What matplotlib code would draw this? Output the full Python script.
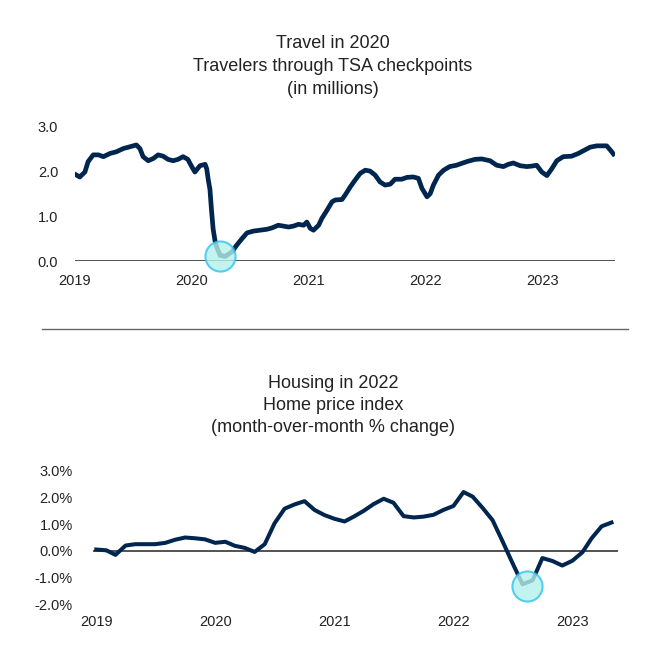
import matplotlib
matplotlib.use("Agg")
import matplotlib.pyplot as plt
import pandas as pd

# --- Données : voyageurs TSA (millions, moyenne glissante) ---
tsa_dates = [
    "2019-01-01", "2019-01-16", "2019-02-01", "2019-02-11", "2019-02-27", "2019-03-15",
    "2019-03-31", "2019-04-20", "2019-05-11", "2019-06-01", "2019-06-22", "2019-07-12",
    "2019-07-23", "2019-08-02", "2019-08-18", "2019-09-03", "2019-09-18", "2019-10-04",
    "2019-10-19", "2019-11-04", "2019-11-19", "2019-12-05", "2019-12-20", "2020-01-01",
    "2020-01-11", "2020-01-27", "2020-02-12", "2020-02-17", "2020-02-22", "2020-02-27",
    "2020-03-03", "2020-03-08", "2020-03-14", "2020-03-19", "2020-03-30", "2020-04-15",
    "2020-05-06", "2020-05-21", "2020-06-06", "2020-06-22", "2020-07-12", "2020-08-02",
    "2020-08-23", "2020-09-08", "2020-09-28", "2020-10-14", "2020-10-30", "2020-11-14",
    "2020-11-30", "2020-12-16", "2020-12-26", "2021-01-06", "2021-01-16", "2021-02-01",
    "2021-02-11", "2021-02-27", "2021-03-15", "2021-03-25", "2021-04-15", "2021-04-25",
    "2021-05-11", "2021-05-26", "2021-06-11", "2021-06-27", "2021-07-12", "2021-07-28",
    "2021-08-12", "2021-08-28", "2021-09-13", "2021-09-28", "2021-10-19", "2021-11-04",
    "2021-11-24", "2021-12-10", "2021-12-21", "2022-01-06", "2022-01-16", "2022-01-26",
    "2022-02-11", "2022-02-27", "2022-03-18", "2022-04-08", "2022-04-28", "2022-05-15",
    "2022-06-05", "2022-06-26", "2022-07-22", "2022-08-12", "2022-09-02", "2022-09-17",
    "2022-10-03", "2022-10-24", "2022-11-14", "2022-11-29", "2022-12-15", "2022-12-31",
    "2023-01-16", "2023-02-01", "2023-02-16", "2023-03-08", "2023-04-03", "2023-04-24",
    "2023-05-10", "2023-05-31", "2023-06-21", "2023-07-22", "2023-08-02", "2023-08-12",
]
tsa_millions = [
    1.93, 1.87, 1.98, 2.21, 2.36, 2.36,
    2.32, 2.39, 2.43, 2.50, 2.54, 2.58,
    2.50, 2.32, 2.23, 2.28, 2.36, 2.33,
    2.26, 2.23, 2.26, 2.32, 2.26, 2.10,
    1.98, 2.12, 2.15, 2.05, 1.80, 1.60,
    1.13, 0.72, 0.45, 0.32, 0.13, 0.11,
    0.21, 0.36, 0.50, 0.63, 0.67, 0.69,
    0.71, 0.74, 0.80, 0.78, 0.76, 0.78,
    0.82, 0.80, 0.87, 0.73, 0.69, 0.80,
    0.95, 1.13, 1.32, 1.36, 1.37, 1.47,
    1.65, 1.80, 1.95, 2.02, 2.00, 1.91,
    1.76, 1.69, 1.71, 1.82, 1.82, 1.86,
    1.87, 1.84, 1.62, 1.43, 1.50, 1.69,
    1.91, 2.02, 2.10, 2.13, 2.18, 2.22,
    2.26, 2.27, 2.23, 2.13, 2.10, 2.15,
    2.18, 2.12, 2.10, 2.11, 2.13, 1.98,
    1.90, 2.06, 2.23, 2.32, 2.33, 2.39,
    2.45, 2.53, 2.56, 2.56, 2.47, 2.38,
]
tsa_point_bas = ("2020-03-28", 0.11)

# --- Données : indice des prix immobiliers (% mensuel) ---
hpi_start, hpi_end = "2019-01-01", "2023-05-01"
hpi_pct = [
    0.05, 0.02, -0.15, 0.20, 0.25, 0.25, 0.25, 0.30, 0.42, 0.50, 0.47, 0.43,
    0.30, 0.34, 0.19, 0.11, -0.04, 0.25, 1.03, 1.58, 1.74, 1.86, 1.53, 1.34,
    1.20, 1.10, 1.28, 1.50, 1.75, 1.95, 1.80, 1.30, 1.25, 1.28, 1.35, 1.53,
    1.68, 2.20, 2.03, 1.60, 1.15, 0.35, -0.45, -1.25, -1.10, -0.27, -0.38, -0.55,
    -0.37, -0.05, 0.47, 0.92, 1.06,
]
hpi_point_bas = ("2022-08-14", -1.31)

tsa_yticks = [0, 1, 2, 3]
tsa_ylabels = ["0.0", "1.0", "2.0", "3.0"]
hpi_yticks = [-2, -1, 0, 1, 2, 3]
hpi_ylabels = ["-2.0%", "-1.0%", "0.0%", "1.0%", "2.0%", "3.0%"]
annees = ["2019", "2020", "2021", "2022", "2023"]

titre_haut = ["Travel in 2020", "Travelers through TSA checkpoints", "(in millions)"]
titre_bas = ["Housing in 2022", "Home price index", "(month-over-month % change)"]

BLEU = "#00264f"
TXT = "#222222"
W, H = 666, 653

fig = plt.figure(figsize=(W / 100, H / 100), dpi=100)


def px_box(x0, y_top, x1, y_bot):
    # position d'axes a partir de pixels (origine en haut a gauche)
    return [x0 / W, 1 - y_bot / H, (x1 - x0) / W, (y_bot - y_top) / H]


def style_axe(ax, yticks, ylabels, ypad, xpad):
    for s in ax.spines.values():
        s.set_visible(False)
    ax.axhline(0, color="#444444", lw=1.3, zorder=1)
    ax.set_yticks(yticks)
    ax.set_yticklabels(ylabels)
    ax.set_xticks([pd.Timestamp(a + "-01-01") for a in annees])
    ax.set_xticklabels(annees)
    ax.tick_params(axis="y", length=0, pad=ypad, labelsize=10.5, labelcolor=TXT)
    ax.tick_params(axis="x", length=0, pad=xpad, labelsize=10.5, labelcolor=TXT)
    for lab in ax.get_xticklabels() + ax.get_yticklabels():
        lab.set_family(["Liberation Sans", "DejaVu Sans"])


def titre(lignes, y_px):
    for i, t in enumerate(lignes):
        fig.text(0.5, 1 - (y_px + 22.5 * i) / H, t, ha="center", va="center",
                 fontsize=13, color=TXT,
                 family=["Liberation Sans Narrow", "Liberation Sans", "DejaVu Sans"])


# --- Graphique du haut : TSA ---
ax1 = fig.add_axes(px_box(75, 126, 615, 261.3))
x1 = pd.to_datetime(tsa_dates)
ax1.plot(x1, tsa_millions, color=BLEU, lw=3.4, solid_joinstyle="round", zorder=3)
ax1.scatter([pd.Timestamp(tsa_point_bas[0])], [tsa_point_bas[1]], s=470,
            facecolor="#b5f1ea", edgecolor="#2ec4ee", linewidth=1.5, alpha=0.8,
            zorder=4, clip_on=False)
ax1.set_xlim(pd.Timestamp("2019-01-01"), pd.Timestamp("2023-08-17"))
ax1.set_ylim(0, 3)
style_axe(ax1, tsa_yticks, tsa_ylabels, ypad=12, xpad=9)
titre(titre_haut, 44)

# Separateur
fig.add_artist(plt.Line2D([42 / W, 628 / W], [1 - 329 / H, 1 - 329 / H],
                          color="#666666", lw=1.0))

# --- Graphique du bas : prix immobiliers ---
ax2 = fig.add_axes(px_box(93, 470.7, 618, 604.3))
x2 = pd.date_range(hpi_start, hpi_end, freq="MS")
ax2.plot(x2, hpi_pct, color=BLEU, lw=2.9, solid_joinstyle="round", zorder=3)
ax2.scatter([pd.Timestamp(hpi_point_bas[0])], [hpi_point_bas[1]], s=470,
            facecolor="#b5f1ea", edgecolor="#2ec4ee", linewidth=1.5, alpha=0.8,
            zorder=4, clip_on=False)
ax2.set_xlim(pd.Timestamp("2018-12-22"), pd.Timestamp("2023-05-21"))
ax2.set_ylim(-2, 3)
style_axe(ax2, hpi_yticks, hpi_ylabels, ypad=14.5, xpad=7.5)
titre(titre_bas, 383)

fig.savefig("out.png", dpi=100, facecolor="white")
